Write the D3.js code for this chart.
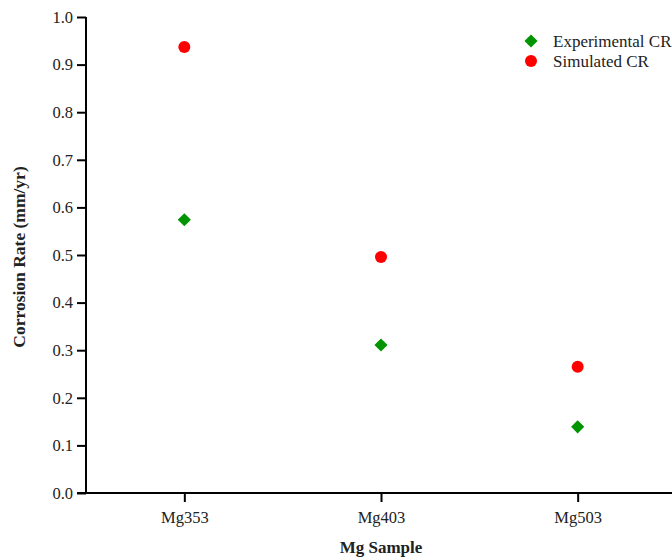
<!DOCTYPE html>
<html>
<head>
<meta charset="utf-8">
<script src="https://cdn.jsdelivr.net/npm/d3@7/dist/d3.min.js"></script>
<style>
  html, body { margin: 0; padding: 0; background: #fff; }
  svg { display: block; }
  text { font-family: "Liberation Serif", "Times New Roman", serif; fill: #222; }
</style>
</head>
<body>
<svg id="chart" width="672" height="558"></svg>
<script>
// Corrosion rates per magnesium sample (mm/yr)
const samples = ["Mg353", "Mg403", "Mg503"];
const experimentalCR = [0.574, 0.311, 0.139];
const simulatedCR = [0.937, 0.496, 0.265];
const yTicks = [0.0, 0.1, 0.2, 0.3, 0.4, 0.5, 0.6, 0.7, 0.8, 0.9, 1.0];
const seriesNames = ["Experimental CR", "Simulated CR"];

const svg = d3.select("#chart");
const margin = { left: 86, top: 17, bottom: 65 };
const W = 672, H = 558;
const plotRight = 676;

const x = d3.scalePoint()
  .domain(samples)
  .range([margin.left, plotRight])
  .padding(0.5);

const y = d3.scaleLinear()
  .domain([0, 1])
  .range([H - margin.bottom, margin.top]);

// y axis
const yAxis = svg.append("g")
  .attr("transform", `translate(${margin.left},0)`)
  .call(d3.axisLeft(y).tickValues(yTicks).tickFormat(d3.format(".1f")).tickSizeOuter(0).tickSize(9).tickPadding(4));

// x axis
const xAxis = svg.append("g")
  .attr("transform", `translate(0,${H - margin.bottom})`)
  .call(d3.axisBottom(x).tickSizeOuter(0).tickSize(9).tickPadding(9));

[yAxis, xAxis].forEach(g => {
  g.attr("font-family", null).attr("font-size", null);
  g.select(".domain").attr("stroke", "#000").attr("stroke-width", 2);
  g.selectAll(".tick line").attr("stroke", "#000").attr("stroke-width", 2);
  g.selectAll(".tick text").attr("font-size", 16.5).attr("fill", "#222");
});
// extend the x baseline to the left of the y axis
xAxis.select(".domain").attr("d", `M${margin.left - 9},0H${plotRight}`);
// y axis runs up to the top tick
yAxis.select(".domain").attr("d", `M0,${y(0)}V${y(1)}`);

// axis titles
svg.append("text")
  .attr("x", x("Mg403"))
  .attr("y", 553)
  .attr("text-anchor", "middle")
  .attr("font-weight", "bold")
  .attr("font-size", 17)
  .text("Mg Sample");

svg.append("text")
  .attr("transform", `translate(25,${(y(0) + y(1)) / 2 + 2}) rotate(-90)`)
  .attr("text-anchor", "middle")
  .attr("font-weight", "bold")
  .attr("font-size", 17.5)
  .text("Corrosion Rate (mm/yr)");

const green = "#009400", red = "#ff0000";
const diamond = d3.symbol().type(d3.symbolDiamond2).size(110);

// experimental points
svg.append("g").selectAll("path")
  .data(samples)
  .join("path")
  .attr("d", diamond)
  .attr("transform", (d, i) => `translate(${x(d)},${y(experimentalCR[i])})`)
  .attr("fill", green);

// simulated points
svg.append("g").selectAll("circle")
  .data(samples)
  .join("circle")
  .attr("cx", d => x(d))
  .attr("cy", (d, i) => y(simulatedCR[i]))
  .attr("r", 6)
  .attr("fill", red);

// legend
const legend = svg.append("g").attr("transform", "translate(531,41)");
legend.append("path").attr("d", diamond).attr("fill", green);
legend.append("circle").attr("cx", 0).attr("cy", 20).attr("r", 6).attr("fill", red);
legend.selectAll("text")
  .data(seriesNames)
  .join("text")
  .attr("x", 22)
  .attr("y", (d, i) => i * 20 + 5.5)
  .attr("font-size", 17)
  .text(d => d);
</script>
</body>
</html>
